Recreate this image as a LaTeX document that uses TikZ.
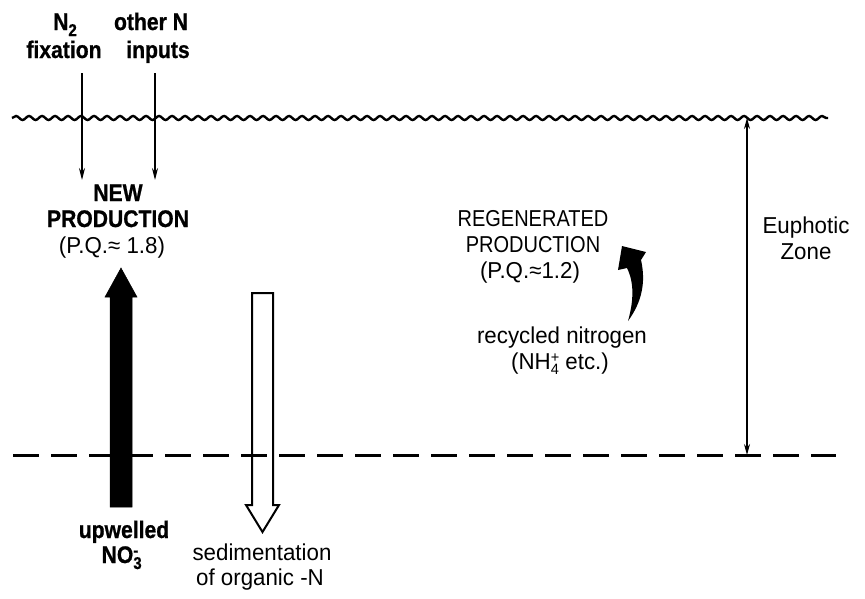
\documentclass[tikz,border=0pt]{standalone}
\usepackage{fontspec}
\setmainfont{Liberation Sans}
\newfontfamily\capfont[FakeStretch=0.87]{Liberation Sans}
\newfontfamily\txtfont[FakeStretch=0.97]{Liberation Sans}
\newfontfamily\bfcond[FakeStretch=0.88,FakeBold=0.8]{Liberation Sans Bold}
\usetikzlibrary{arrows.meta,decorations.pathmorphing}
\tikzset{
  lbl/.style={anchor=base,inner sep=0pt,font=\txtfont\fontsize{23}{26}\selectfont},
  caplbl/.style={anchor=base,inner sep=0pt,font=\capfont\fontsize{23}{26}\selectfont},
  boldlbl/.style={anchor=base,inner sep=0pt,font=\bfcond\fontsize{24}{26}\selectfont},
  thinarrow/.style={line width=1.3pt,-{Stealth[length=12pt,width=6pt]}},
  zonearrow/.style={line width=1.2pt,{Stealth[length=11pt,width=6pt]}-{Stealth[length=11pt,width=6pt]}},
  surface/.style={line width=2.4pt,decorate,decoration={snake,segment length=13pt,amplitude=2pt}},
  depthline/.style={line width=3pt,dash pattern=on 26pt off 12pt},
  blackblock/.style={fill=black,draw=black,line width=0.5pt},
  whiteblock/.style={draw=black,line width=2pt,line join=miter}
}
\begin{document}
\begin{tikzpicture}[x=1pt,y=-1pt]
\useasboundingbox (0,0) rectangle (865,598);
% surface line
\coordinate (sL) at (12,118);
\coordinate (sR) at (828,118);
\draw[surface] (sL) -- (sR);
% labels top
\node[boldlbl] (n2) at (65,30) {N\raisebox{-6pt}{\fontsize{17}{17}\selectfont 2}};
\node[boldlbl] (fix) at (64,58) {fixation};
\node[boldlbl] (oth) at (151,30) {other N};
\node[boldlbl] (inp) at (158,58) {inputs};
\coordinate (a1s) at (82,73);
\coordinate (a1e) at (82,180);
\coordinate (a2s) at (155,73);
\coordinate (a2e) at (155,180);
\draw[thinarrow] (a1s) -- (a1e);
\draw[thinarrow] (a2s) -- (a2e);
\node[boldlbl] (new) at (118,201) {NEW};
\node[boldlbl] (prod) at (118,227) {PRODUCTION};
\node[lbl] (pq1) at (112,253) {(P.Q.≈ 1.8)};
% black upward block arrow
\draw[blackblock] (110,507) -- (110,297) -- (105,297) -- (121,268) -- (137,297) -- (132,297) -- (132,507) -- cycle;
% white downward block arrow
\draw[whiteblock] (252,293) -- (273,293) -- (273,505) -- (279,505) -- (262.5,532) -- (246,505) -- (252,505) -- cycle;
% dashed line
\coordinate (dL) at (13,455);
\coordinate (dR) at (836,455);
\draw[depthline] (dL) -- (dR);
\node[boldlbl] (upw) at (124,538) {upwelled};
\node[boldlbl] (no3) at (120,563) {NO\rlap{\raisebox{-6pt}{\fontsize{17}{17}\selectfont 3}}\raisebox{7pt}{\fontsize{17}{17}\selectfont -}};
\node[lbl] (sed) at (262,560) {sedimentation};
\node[lbl] (org) at (260,585) {of organic -N};
% regenerated production
\node[caplbl] (regen) at (533,226) {REGENERATED};
\node[caplbl] (prod2) at (533,252) {PRODUCTION};
\node[lbl] (pq2) at (530,278) {(P.Q.≈1.2)};
\fill[black] (628,321) .. controls (634,300) and (634,282) .. (627,268)
  -- (618,270) -- (622,246) -- (646,252) -- (641,260)
  .. controls (646,282) and (642,302) .. (628,321) -- cycle;
\node[lbl] (rec) at (562,343) {recycled nitrogen};
\node[lbl] (nh4) at (560,369) {(NH\rlap{\raisebox{-5pt}{\fontsize{15}{15}\selectfont 4}}\raisebox{7pt}{\fontsize{15}{15}\selectfont +} etc.)};
% euphotic zone
\coordinate (zt) at (747,118);
\coordinate (zb) at (747,455);
\draw[zonearrow] (zt) -- (zb);
\node[lbl] (eup) at (806,233) {Euphotic};
\node[lbl] (zone) at (806,259) {Zone};
\end{tikzpicture}
\end{document}
